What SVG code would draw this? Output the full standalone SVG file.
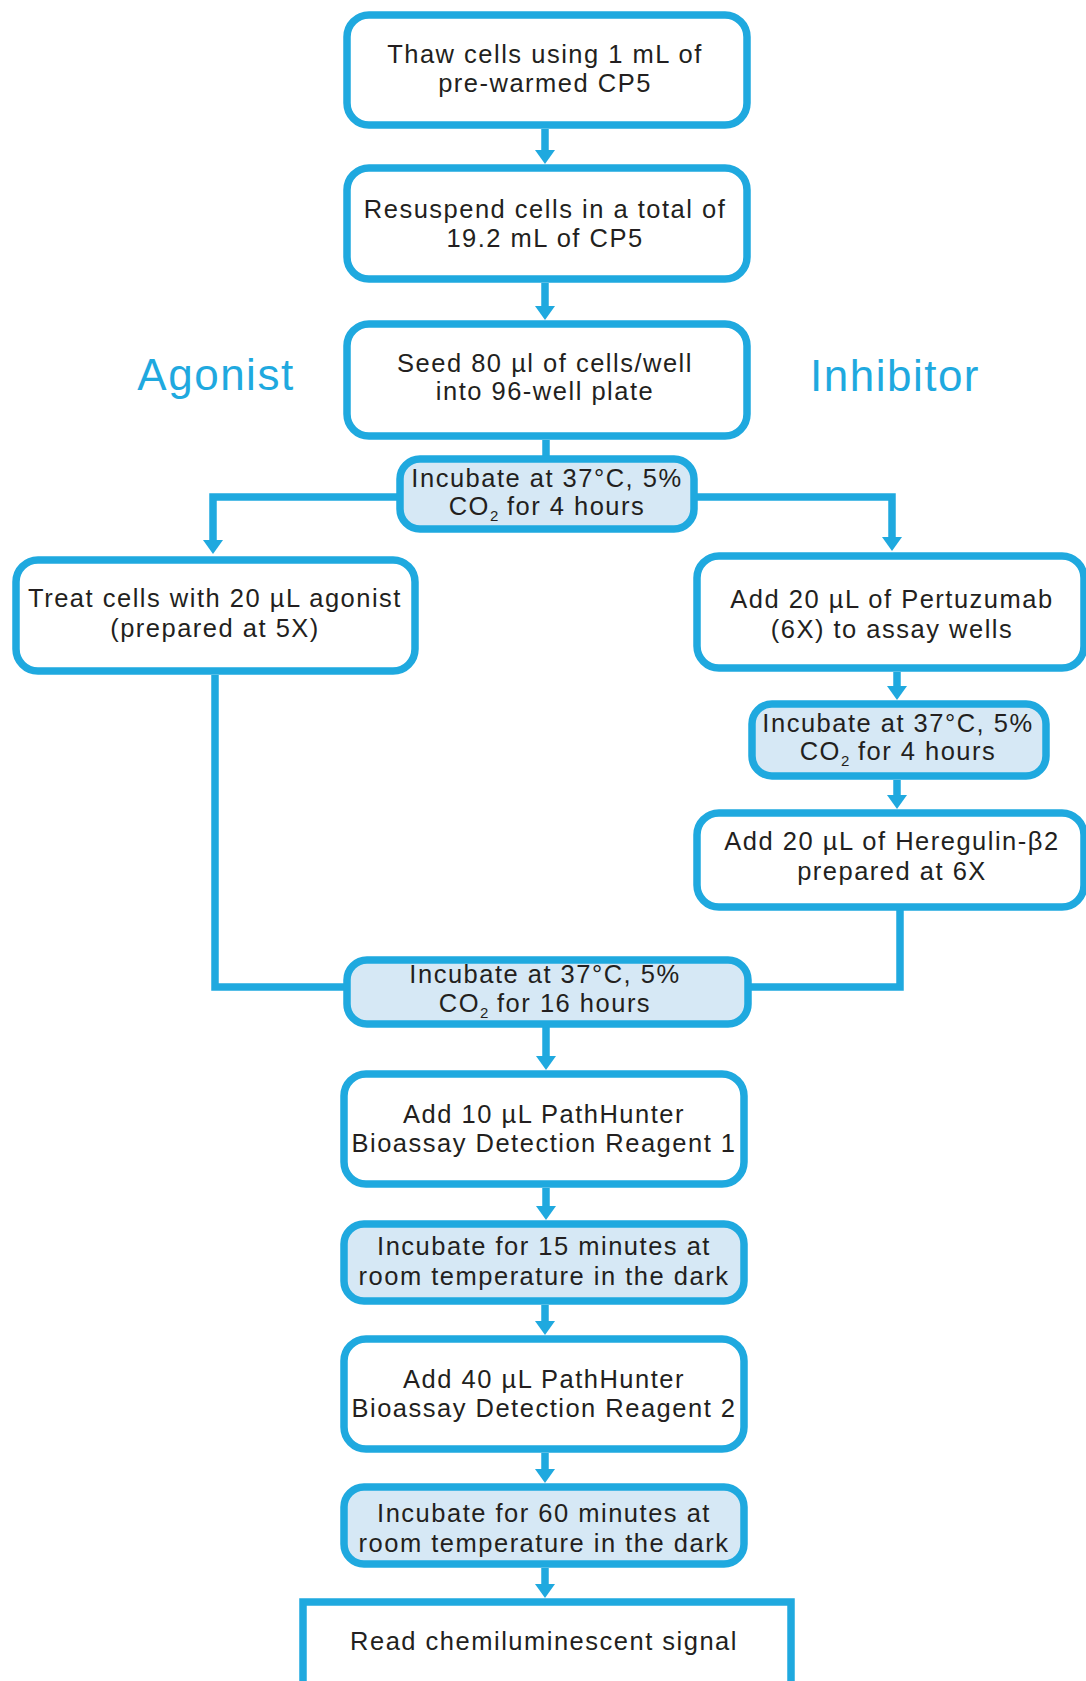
<svg xmlns="http://www.w3.org/2000/svg" width="1086" height="1681" viewBox="0 0 1086 1681">
<style>
.box{fill:#ffffff;stroke:#1fa9df;stroke-width:7.5}
.inc{fill:#d6e8f5;stroke:#1fa9df;stroke-width:7.5}
.t{font-family:"Liberation Sans",Arial,sans-serif;font-size:25.5px;letter-spacing:1.5px;fill:#231f20;text-anchor:middle}
.sub{font-size:15px;letter-spacing:0}
.lbl{font-family:"Liberation Sans",Arial,sans-serif;font-size:44px;letter-spacing:1.5px;fill:#1fa9df;text-anchor:middle}
.c{fill:none;stroke:#1fa9df;stroke-width:7.5}
</style>
<defs>
<marker id="ah" markerUnits="userSpaceOnUse" markerWidth="14" markerHeight="20" viewBox="0 0 14 20" refX="2" refY="10" orient="auto">
<path d="M0,0 L14,10 L0,20 z" fill="#1fa9df"/>
</marker>
</defs>
<g id="connectors">
<path class="c" d="M545,129 V152" marker-end="url(#ah)"/>
<path class="c" d="M545,283 V308" marker-end="url(#ah)"/>
<path class="c" d="M546,440 V458"/>
<path class="c" d="M400,497 H213 V542" marker-end="url(#ah)"/>
<path class="c" d="M694,497 H892 V539" marker-end="url(#ah)"/>
<path class="c" d="M897,672 V688" marker-end="url(#ah)"/>
<path class="c" d="M897,780 V797" marker-end="url(#ah)"/>
<path class="c" d="M215,675 V987 H347"/>
<path class="c" d="M900,910 V987 H748"/>
<path class="c" d="M546,1026 V1058" marker-end="url(#ah)"/>
<path class="c" d="M546,1188 V1208" marker-end="url(#ah)"/>
<path class="c" d="M545,1305 V1323" marker-end="url(#ah)"/>
<path class="c" d="M545,1453 V1471" marker-end="url(#ah)"/>
<path class="c" d="M545,1568 V1586" marker-end="url(#ah)"/>
</g>
<g id="label-agonist"><text class="lbl" x="216" y="390">Agonist</text></g>
<g id="label-inhibitor"><text class="lbl" x="895" y="391">Inhibitor</text></g>
<g id="n1">
<rect class="box" x="347" y="15" width="400" height="110" rx="22"/>
<text class="t" x="545" y="63">Thaw cells using 1 mL of</text>
<text class="t" x="545" y="92">pre-warmed CP5</text>
</g>
<g id="n2">
<rect class="box" x="347" y="168" width="400" height="111" rx="22"/>
<text class="t" x="545" y="218">Resuspend cells in a total of</text>
<text class="t" x="545" y="247">19.2 mL of CP5</text>
</g>
<g id="n3">
<rect class="box" x="347" y="324" width="400" height="112" rx="22"/>
<text class="t" x="545" y="372">Seed 80 µl of cells/well</text>
<text class="t" x="545" y="400">into 96-well plate</text>
</g>
<g id="n4">
<rect class="inc" x="400" y="459" width="294" height="70" rx="20"/>
<text class="t" x="547" y="487">Incubate at 37°C, 5%</text>
<text class="t" x="547" y="515">CO<tspan class="sub" dy="6">2</tspan><tspan dy="-6"> for 4 hours</tspan></text>
</g>
<g id="n5">
<rect class="box" x="16" y="560" width="399" height="111" rx="22"/>
<text class="t" x="215" y="607">Treat cells with 20 µL agonist</text>
<text class="t" x="215" y="637">(prepared at 5X)</text>
</g>
<g id="n6">
<rect class="box" x="697" y="556" width="387" height="112" rx="22"/>
<text class="t" x="892" y="608">Add 20 µL of Pertuzumab</text>
<text class="t" x="892" y="638">(6X) to assay wells</text>
</g>
<g id="n7">
<rect class="inc" x="752" y="704" width="294" height="72" rx="20"/>
<text class="t" x="898" y="732">Incubate at 37°C, 5%</text>
<text class="t" x="898" y="760">CO<tspan class="sub" dy="6">2</tspan><tspan dy="-6"> for 4 hours</tspan></text>
</g>
<g id="n8">
<rect class="box" x="697" y="813" width="387" height="94" rx="22"/>
<text class="t" x="892" y="850">Add 20 µL of Heregulin-β2</text>
<text class="t" x="892" y="880">prepared at 6X</text>
</g>
<g id="n9">
<rect class="inc" x="347" y="960" width="401" height="64" rx="20"/>
<text class="t" x="545" y="983">Incubate at 37°C, 5%</text>
<text class="t" x="545" y="1012">CO<tspan class="sub" dy="6">2</tspan><tspan dy="-6"> for 16 hours</tspan></text>
</g>
<g id="n10">
<rect class="box" x="344" y="1074" width="400" height="110" rx="22"/>
<text class="t" x="544" y="1123">Add 10 µL PathHunter</text>
<text class="t" x="544" y="1152">Bioassay Detection Reagent 1</text>
</g>
<g id="n11">
<rect class="inc" x="344" y="1224" width="400" height="77" rx="20"/>
<text class="t" x="544" y="1255">Incubate for 15 minutes at</text>
<text class="t" x="544" y="1285">room temperature in the dark</text>
</g>
<g id="n12">
<rect class="box" x="344" y="1339" width="400" height="110" rx="22"/>
<text class="t" x="544" y="1388">Add 40 µL PathHunter</text>
<text class="t" x="544" y="1417">Bioassay Detection Reagent 2</text>
</g>
<g id="n13">
<rect class="inc" x="344" y="1487" width="400" height="77" rx="20"/>
<text class="t" x="544" y="1522">Incubate for 60 minutes at</text>
<text class="t" x="544" y="1552">room temperature in the dark</text>
</g>
<g id="n14">
<rect class="box" x="303" y="1602" width="488" height="120"/>
<text class="t" x="544" y="1650">Read chemiluminescent signal</text>
</g>
</svg>
